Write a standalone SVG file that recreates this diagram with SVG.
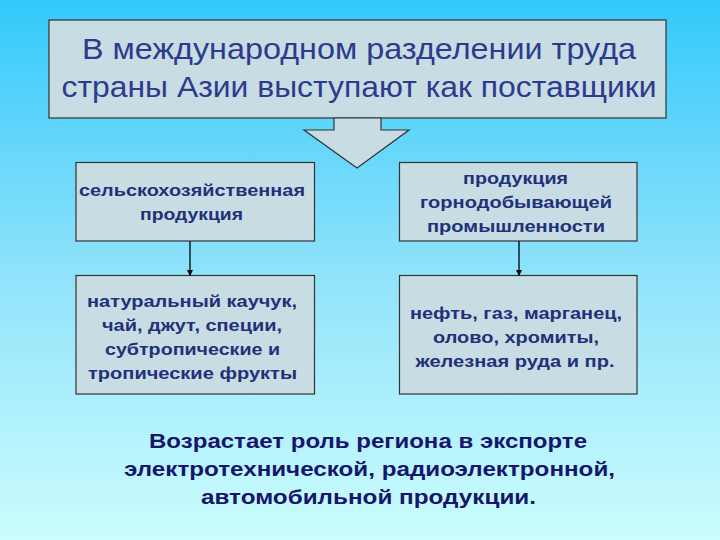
<svg xmlns="http://www.w3.org/2000/svg" width="720" height="540" viewBox="0 0 720 540">
<defs>
<linearGradient id="bg" x1="0" y1="0" x2="0" y2="1">
<stop offset="0" stop-color="#33c9fb"/>
<stop offset="0.5" stop-color="#8fe2fb"/>
<stop offset="1" stop-color="#ccfdfd"/>
</linearGradient>
<marker id="ah" markerWidth="6" markerHeight="6" refX="5" refY="3" orient="auto" markerUnits="userSpaceOnUse">
<path d="M0,0 L6,3 L0,6 z" fill="#000"/>
</marker>
<style>
.box{fill:#c7dde3;stroke:#333;stroke-width:1.2}
.t{font-family:"Liberation Sans",Arial,sans-serif;text-anchor:middle}
.title{font-size:30px;fill:#2e3a8e}
.bt{font-size:17px;font-weight:bold;fill:#22307a}
.bot{font-size:20px;font-weight:bold;fill:#16166a}
.conn{stroke:#000;stroke-width:1.3;fill:none}
</style>
</defs>
<rect width="720" height="540" fill="url(#bg)"/>

<g id="title">
<rect class="box" x="49" y="20" width="617" height="98"/>
<text class="t title" x="359" y="59" textLength="554" lengthAdjust="spacingAndGlyphs">В международном разделении труда</text>
<text class="t title" x="359" y="97" textLength="595" lengthAdjust="spacingAndGlyphs">страны Азии выступают как поставщики</text>
</g>

<g id="big-arrow">
<path class="box" d="M334,118 L381,118 L381,130 L409,130 L357,168 L304,130 L334,130 Z"/>
</g>

<g id="agri">
<rect class="box" x="76" y="162.5" width="238.5" height="78.5"/>
<text class="t bt" x="192" y="196" textLength="226" lengthAdjust="spacingAndGlyphs">сельскохозяйственная</text>
<text class="t bt" x="191.5" y="220" textLength="103" lengthAdjust="spacingAndGlyphs">продукция</text>
</g>

<g id="mining">
<rect class="box" x="399.5" y="162.5" width="237.5" height="78.5"/>
<text class="t bt" x="515.5" y="184" textLength="105" lengthAdjust="spacingAndGlyphs">продукция</text>
<text class="t bt" x="516" y="208" textLength="192" lengthAdjust="spacingAndGlyphs">горнодобывающей</text>
<text class="t bt" x="516" y="232" textLength="178" lengthAdjust="spacingAndGlyphs">промышленности</text>
</g>

<g id="agri-items">
<rect class="box" x="76" y="275.5" width="238.5" height="118.5"/>
<text class="t bt" x="192" y="307" textLength="210" lengthAdjust="spacingAndGlyphs">натуральный каучук,</text>
<text class="t bt" x="192" y="331" textLength="180" lengthAdjust="spacingAndGlyphs">чай, джут, специи,</text>
<text class="t bt" x="192.5" y="355" textLength="175" lengthAdjust="spacingAndGlyphs">субтропические и</text>
<text class="t bt" x="192.5" y="379" textLength="209" lengthAdjust="spacingAndGlyphs">тропические фрукты</text>
</g>

<g id="mining-items">
<rect class="box" x="399.5" y="275.5" width="237.5" height="118.5"/>
<text class="t bt" x="516" y="319" textLength="212" lengthAdjust="spacingAndGlyphs">нефть, газ, марганец,</text>
<text class="t bt" x="516" y="343" textLength="166" lengthAdjust="spacingAndGlyphs">олово, хромиты,</text>
<text class="t bt" x="515" y="367" textLength="199" lengthAdjust="spacingAndGlyphs">железная руда и пр.</text>
</g>

<g id="connectors">
<line class="conn" x1="190" y1="241" x2="190" y2="275" marker-end="url(#ah)"/>
<line class="conn" x1="519" y1="241" x2="519" y2="275" marker-end="url(#ah)"/>
</g>

<g id="summary">
<text class="t bot" x="368" y="448" textLength="438" lengthAdjust="spacingAndGlyphs">Возрастает роль региона в экспорте</text>
<text class="t bot" x="369.5" y="476" textLength="491" lengthAdjust="spacingAndGlyphs">электротехнической, радиоэлектронной,</text>
<text class="t bot" x="368.5" y="504" textLength="335" lengthAdjust="spacingAndGlyphs">автомобильной продукции.</text>
</g>
</svg>
